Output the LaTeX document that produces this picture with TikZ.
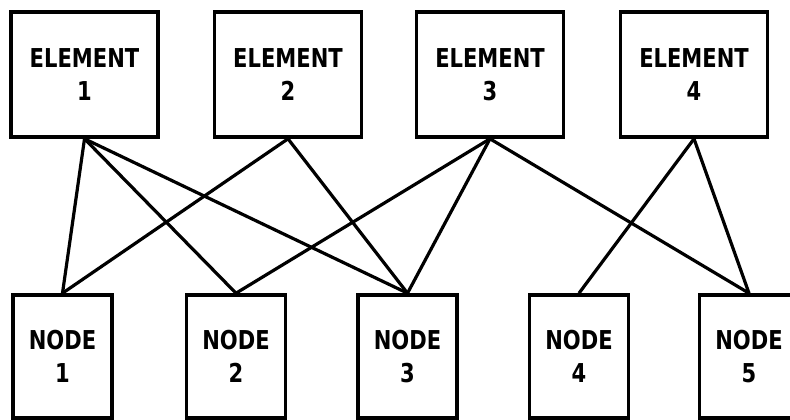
\documentclass[tikz,border=0pt]{standalone}
\usepackage{fontspec}
\setmainfont[FakeStretch=0.9]{DejaVu Sans Condensed}
\usetikzlibrary{positioning}
\tikzset{
  elembox/.style={draw,line width=3.6pt,minimum width=147pt,minimum height=125pt,align=center,font=\bfseries\fontsize{26}{33}\selectfont},
  nodebox/.style={draw,line width=3.6pt,minimum width=99pt,minimum height=123pt,align=center,font=\bfseries\fontsize{26}{33}\selectfont},
  link/.style={line width=3.2pt}
}
\begin{document}
\begin{tikzpicture}[x=1pt,y=-1pt]
  \useasboundingbox (0,0) rectangle (790,420);
  \foreach \i/\x in {1/84.5,2/288,3/490,4/694}
    \node[elembox] (e\i) at (\x,74.5) {ELEMENT\\\i};
  \foreach \i/\x in {1/62.5,2/236,3/407.5,4/579,5/749}
    \node[nodebox] (n\i) at (\x,356.5) {NODE\\\i};
  % element -- node links
  \foreach \a/\b in {1/1,1/2,1/3,2/1,2/3,3/2,3/3,3/5,4/4,4/5}
    \draw[link] (e\a.south) -- (n\b.north);
\end{tikzpicture}
\end{document}
